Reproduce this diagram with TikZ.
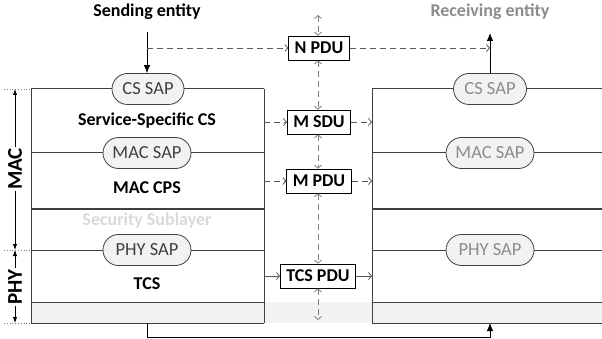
\documentclass[tikz,border=0pt]{standalone}
\usepackage{fontspec}
\setmainfont{Carlito}
\usetikzlibrary{arrows.meta,shapes.misc}
\definecolor{stackline}{HTML}{404040}
\definecolor{bandgray}{HTML}{F2F2F2}
\definecolor{dashgray}{HTML}{7F7F7F}
\definecolor{hflowgray}{HTML}{595959}
\definecolor{sapdark}{HTML}{404040}
\definecolor{saplight}{HTML}{8C8C8C}
\definecolor{secgray}{HTML}{D9D9D9}
\tikzset{
  layerline/.style={draw=stackline, line width=1pt},
  sapbox/.style={rounded rectangle, draw=stackline, fill=bandgray, line width=0.8pt,
    minimum width=76pt, minimum height=31pt, inner sep=2pt, font=\fontsize{18.5}{20}\selectfont},
  sapleft/.style={sapbox, text=sapdark},
  sapright/.style={sapbox, text=saplight},
  pdubox/.style={draw=black, fill=white, line width=0.7pt, minimum height=24pt, inner xsep=6pt,
    inner ysep=1pt, font=\fontsize{18}{20}\selectfont\bfseries},
  layerlabel/.style={font=\fontsize{18}{20}\selectfont\bfseries},
  flow/.style={draw=dashgray, line width=0.8pt, dash pattern=on 6pt off 4pt,
    arrows={-Straight Barb[length=3pt,width=7pt]}},
  hflow/.style={flow, draw=hflowgray},
  flowboth/.style={flow, arrows={Straight Barb[length=3pt,width=7pt]-Straight Barb[length=3pt,width=7pt]}},
  solidtip/.style={draw=black, line width=0.8pt, -{Latex[length=8pt,width=6.5pt]}},
  brace/.style={draw=black, line width=0.9pt, {Latex[length=6pt,width=4.5pt]}-{Latex[length=6pt,width=4.5pt]}},
  guide/.style={draw=dashgray, line width=0.8pt, dotted},
  sidelabel/.style={font=\fontsize{21}{23}\selectfont\bfseries, fill=white, rotate=90, inner sep=1pt}
}
\begin{document}
\begin{tikzpicture}[x=1pt,y=-1pt]
\useasboundingbox (0,0) rectangle (602,339);
% grey band at the bottom
\fill[bandgray] (31,302) rectangle (602,323);
% left stack
\draw[layerline] (31,89) -- (264,89);
\foreach \yy in {153,209,250,302,323} \draw[layerline] (31,\yy) -- (264,\yy);
\draw[layerline] (31,89) -- (31,323);
\draw[layerline] (264,89) -- (264,323);
% right stack
\draw[layerline] (372,89) -- (602,89);
\foreach \yy in {153,209,250,302,323} \draw[layerline] (372,\yy) -- (602,\yy);
\draw[layerline] (372,89) -- (372,323);
% layer names
\node[layerlabel] (sscs) at (147,121) {Service-Specific CS};
\node[layerlabel] (cps) at (147,188) {MAC CPS};
\node[layerlabel, text=secgray] (sec) at (147,221) {Security Sublayer};
\node[layerlabel] (tcs) at (147,284) {TCS};
% SAPs
\node[sapleft] (csL) at (148,89) {CS SAP};
\node[sapleft, minimum width=92pt] (macL) at (147,153) {MAC SAP};
\node[sapleft, minimum width=92pt] (phyL) at (147,250) {PHY SAP};
\node[sapright, minimum width=77pt] (csR) at (490,89) {CS SAP};
\node[sapright, minimum width=92pt] (macR) at (490,153) {MAC SAP};
\node[sapright, minimum width=92pt] (phyR) at (490,250) {PHY SAP};
% entities
\node[layerlabel] (send) at (147,12) {Sending entity};
\node[layerlabel, text=saplight] (recv) at (490,12) {Receiving entity};
\coordinate (sendtop) at (147,32);
\coordinate (sendmid) at (147,48);
\coordinate (recvtop) at (490,33);
\coordinate (recvmid) at (490,48);
\draw[solidtip] (sendtop) -- (sendtop |- csL.north);
\draw[solidtip] (csR.north) -- (recvtop);
% PDUs
\node[pdubox] (npdu) at (319,48) {N PDU};
\node[pdubox] (msdu) at (319,122) {M SDU};
\node[pdubox] (mpdu) at (319,181) {M PDU};
\node[pdubox] (tpdu) at (318,276) {TCS PDU};
\coordinate (midtop) at (318,15);
\coordinate (midbot) at (318,320);
\draw[flowboth] (midtop) -- (npdu.north -| midtop);
\draw[flowboth] (npdu.south -| midtop) -- (msdu.north -| midtop);
\draw[flowboth] (msdu.south -| midtop) -- (mpdu.north -| midtop);
\draw[flowboth] (mpdu.south -| midtop) -- (tpdu.north -| midtop);
\draw[flowboth] (tpdu.south -| midtop) -- (midbot);
% horizontal flows
\coordinate (Ledge) at (264,0);
\coordinate (Redge) at (372,0);
\draw[hflow] (sendmid) -- (npdu.west);
\draw[hflow] (npdu.east) -- (recvmid);
\draw[hflow] (msdu.west -| Ledge) -- (msdu.west);
\draw[hflow] (msdu.east) -- (msdu.east -| Redge);
\draw[hflow] (mpdu.west -| Ledge) -- (mpdu.west);
\draw[hflow] (mpdu.east) -- (mpdu.east -| Redge);
\draw[hflow, solid] (tpdu.west -| Ledge) -- (tpdu.west);
\draw[hflow, solid] (tpdu.east) -- (tpdu.east -| Redge);
% physical link
\coordinate (linkA) at (147,323);
\coordinate (linkB) at (490,323);
\draw[solidtip] (linkA) -- ++(0,14) -| (linkB);
% side brackets
\coordinate (macT) at (15,89);
\coordinate (macB) at (15,250);
\coordinate (phyB) at (15,323);
\draw[guide] (4,89) -- (31,89);
\draw[guide] (4,250) -- (31,250);
\draw[guide] (4,323) -- (31,323);
\draw[brace] (macT) -- (macB);
\draw[brace] (macB) -- (phyB);
\node[sidelabel] (maclbl) at (15,169) {MAC};
\node[sidelabel] (phylbl) at (15,287) {PHY};
\end{tikzpicture}
\end{document}
